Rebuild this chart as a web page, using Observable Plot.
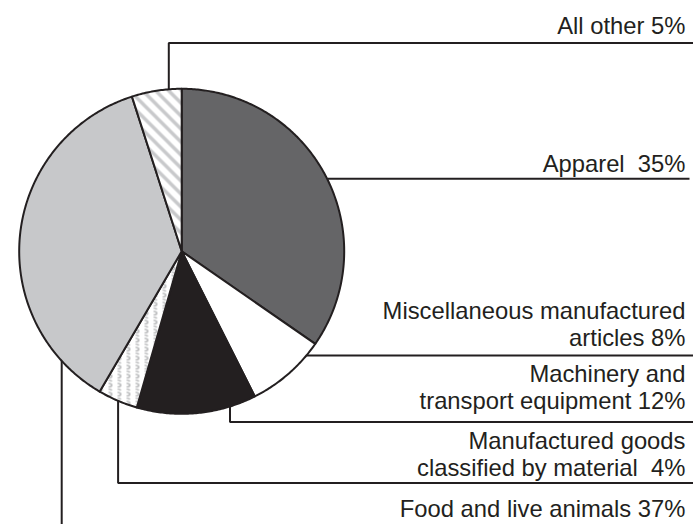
<!DOCTYPE html>
<html>
<head>
<meta charset="utf-8">
<script src="https://cdn.jsdelivr.net/npm/d3@7"></script>
<script src="https://cdn.jsdelivr.net/npm/@observablehq/plot@0.6"></script>
<style>
  html, body { margin: 0; padding: 0; background: #fff; }
  #chart svg { display: block; }
</style>
</head>
<body>
<div id="chart"></div>
<script>
// ---- data ----
const categories = [
  "Apparel",
  "Miscellaneous manufactured articles",
  "Machinery and transport equipment",
  "Manufactured goods classified by material",
  "Food and live animals",
  "All other"
];
const shares = [35, 8, 12, 4, 37, 5];
const labels = [
  "Apparel  35%",
  "Miscellaneous manufactured\narticles 8%",
  "Machinery and\ntransport equipment 12%",
  "Manufactured goods\nclassified by material  4%",
  "Food and live animals 37%",
  "All other 5%"
];
const sliceFills = ["#656567", "#ffffff", "#231f20", "url(#sPattern)", "#c7c8ca", "url(#hatch)"];

// ---- layout ----
const W = 693, H = 524;
const cx = 181.2, cy = 250.8, r = 162.5;
const ink = "#231f20";

// pie geometry from the data via d3.pie
const arcs = d3.pie().sort(null).value(d => d)(shares);
const slicePts = [];
arcs.forEach((a, i) => {
  slicePts.push({name: categories[i], x: cx, y: cy});
  const n = Math.max(2, Math.ceil((a.endAngle - a.startAngle) / 0.01));
  for (let k = 0; k <= n; k++) {
    const t = a.startAngle + (a.endAngle - a.startAngle) * k / n;
    slicePts.push({name: categories[i], x: cx + r * Math.sin(t), y: cy - r * Math.cos(t)});
  }
});

// leader lines (layout anchors)
const edgeY = x => cy + Math.sqrt(r * r - (x - cx) ** 2);
const edgeYTop = x => cy - Math.sqrt(r * r - (x - cx) ** 2);
const edgeX = y => cx + Math.sqrt(r * r - (y - cy) ** 2);
const leaders = [
  {name: "All other", pts: [[168.3, edgeYTop(168.3)], [168.3, 42.6], [W, 42.6]]},
  {name: "Apparel", pts: [[edgeX(178.3), 178.3], [689, 178.3]]},
  {name: "Misc", pts: [[edgeX(355), 355], [W, 355]]},
  {name: "Machinery", pts: [[229.5, edgeY(229.5)], [229.5, 421.5], [W, 421.5]]},
  {name: "Manufactured", pts: [[117.6, edgeY(117.6)], [117.6, 482.5], [W, 482.5]]},
  {name: "Food", pts: [[61.2, edgeY(61.2)], [61.2, H + 2]]}
];
const leaderPts = leaders.flatMap(l => l.pts.map(([x, y]) => ({name: l.name, x, y})));

// label anchors (right-aligned, baseline of last line)
const labelY = [171.7, 345, 408.5, 475.5, 516.7, 33.3];
const labelRows = labels.map((t, i) => ({text: t, x: 685, y: labelY[i]}));

const chart = Plot.plot({
  width: W,
  height: H,
  margin: 0,
  style: {background: "#fff"},
  x: {domain: [0, W], range: [0, W], axis: null},
  y: {domain: [0, H], range: [0, H], axis: null},
  color: {type: "ordinal", domain: categories, range: sliceFills},
  marks: [
    Plot.line(leaderPts, {x: "x", y: "y", z: "name", stroke: ink, strokeWidth: 2, strokeLinejoin: "miter", strokeLinecap: "butt"}),
    Plot.line(slicePts, {x: "x", y: "y", z: "name", fill: "name", stroke: ink, strokeWidth: 2, curve: "linear-closed", strokeLinejoin: "round"}),
    Plot.text(labelRows, {
      x: "x", y: "y", text: "text",
      textAnchor: "end", lineAnchor: "bottom",
      fontSize: 23.8, lineHeight: 1.12,
      fontFamily: "'Liberation Sans', Arial, Helvetica, sans-serif",
      fill: ink
    })
  ]
});

// patterns for the textured slices
const ns = "http://www.w3.org/2000/svg";
const defs = document.createElementNS(ns, "defs");
defs.innerHTML = `
  <pattern id="hatch" patternUnits="userSpaceOnUse" width="13" height="13">
    <rect width="13" height="13" fill="#fff"/>
    <path d="M-3,-3 L16,16 M10,-3 L16,3 M-3,10 L3,16" stroke="#c8c9cb" stroke-width="3.4"/>
  </pattern>
  <pattern id="sPattern" patternUnits="userSpaceOnUse" width="9" height="9">
    <rect width="9" height="9" fill="#fff"/>
    <text x="0.6" y="8.6" font-family="Liberation Sans, Arial, sans-serif" font-weight="bold" font-size="11.5" fill="#b8b9bb">S</text>
  </pattern>`;
chart.insertBefore(defs, chart.firstChild);

document.getElementById("chart").appendChild(chart);
</script>
</body>
</html>
